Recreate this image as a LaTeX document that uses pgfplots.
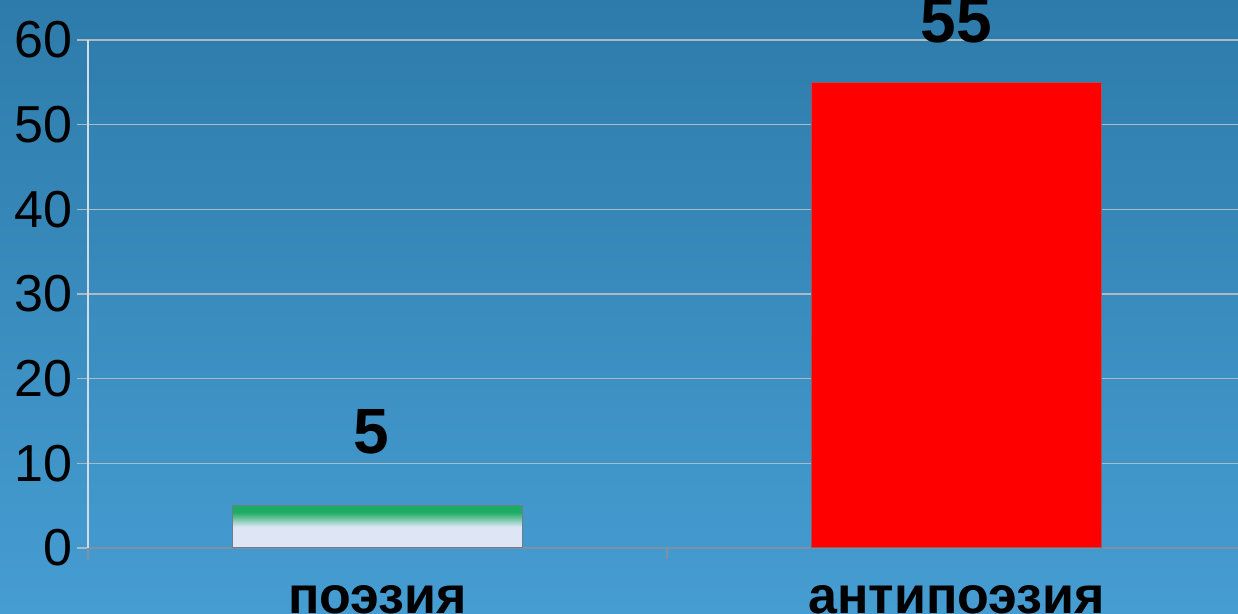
\documentclass[border=0pt]{standalone}
\usepackage{pgfplots}
\pgfplotsset{compat=1.18}
\usepackage{fontspec}
\setmainfont{Liberation Sans}
\definecolor{bgtop}{RGB}{45,123,170}
\definecolor{bgbot}{RGB}{70,157,210}
\definecolor{gridc}{RGB}{172,186,196}
\definecolor{yaxc}{RGB}{210,220,228}
\definecolor{xaxc}{RGB}{125,145,160}
\definecolor{grn}{RGB}{30,172,100}
\definecolor{lav}{RGB}{222,230,246}
\definecolor{bord}{RGB}{110,125,135}
\pgfdeclareverticalshading{greenbar}{100bp}{color(0bp)=(lav); color(50bp)=(lav); color(67bp)=(grn); color(100bp)=(grn)}
\begin{document}
\begin{tikzpicture}
\useasboundingbox (-44pt,-33pt) rectangle (575pt,274pt);
\clip (-44pt,-33pt) rectangle (575pt,274pt);
\shade[top color=bgtop, bottom color=bgbot] (-44pt,-33pt) rectangle (575pt,274pt);
\begin{axis}[
  at={(0pt,0pt)}, anchor=south west,
  scale only axis, width=579pt, height=254pt,
  xmin=0, xmax=2, ymin=0, ymax=60,
  ytick={0,10,...,60},
  xtick={0.5,1.5},
  xticklabels={поэзия,антипоэзия},
  axis x line*=bottom, axis y line*=left,
  x axis line style={-, draw=xaxc, line width=1pt},
  y axis line style={-, draw=yaxc, line width=0.6pt},
  tick align=outside,
  major tick length=5.5pt,
  ytick style={draw=gridc, line width=0.7pt},
  xtick style={draw=none},
  extra x ticks={0,1,2},
  extra x tick labels={},
  extra x tick style={xtick style={draw=xaxc, line width=1pt}},
  ymajorgrids,
  grid style={draw=gridc, line width=0.7pt},
  /pgf/number format/assume math mode=true,
  yticklabel style={font=\fontsize{26}{30}\selectfont, inner sep=2pt, text=black},
  xticklabel style={font=\bfseries\fontsize{26}{30}\selectfont, anchor=base, yshift=-27.5pt, text=black},
  clip=false,
]
\addplot[ybar, bar width=0.5, draw=bord, line width=0.5pt, shade, shading=greenbar,
  nodes near coords,
  every node near coord/.append style={font=\bfseries\fontsize{32}{36}\selectfont, anchor=base, yshift=26pt, xshift=-3pt, text=black}]
  coordinates {(0.5,5)};
\addplot[ybar, bar width=0.5, draw=bord!70!red, line width=0.5pt, fill=red,
  nodes near coords,
  every node near coord/.append style={font=\bfseries\fontsize{32}{36}\selectfont, anchor=base, yshift=20pt, text=black}]
  coordinates {(1.5,55)};
\end{axis}
\end{tikzpicture}
\end{document}
